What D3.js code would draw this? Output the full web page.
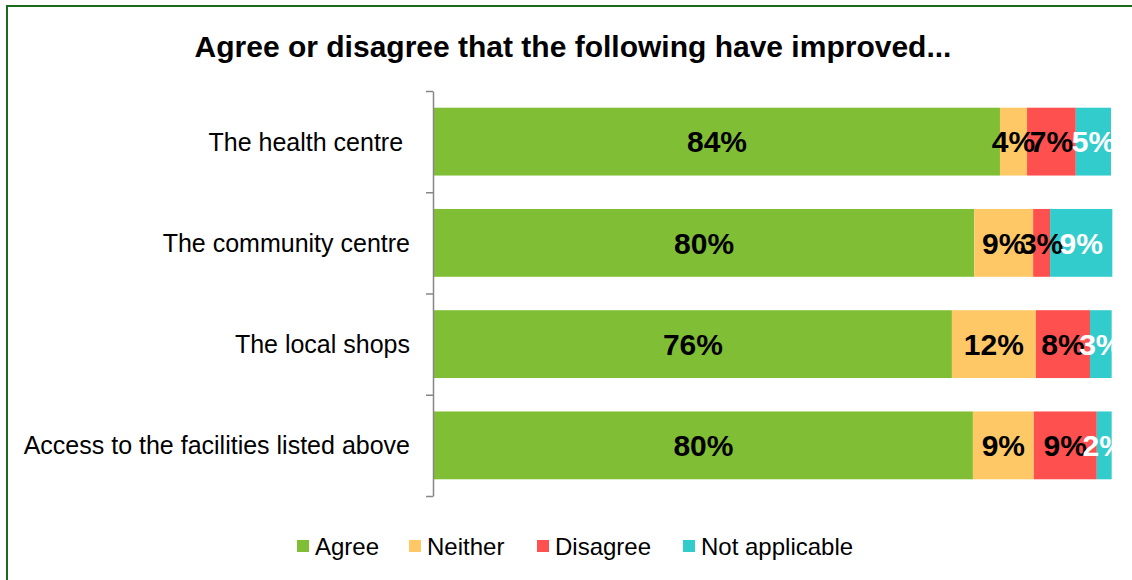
<!DOCTYPE html>
<html>
<head>
<meta charset="utf-8">
<script src="https://cdn.jsdelivr.net/npm/d3@7"></script>
<style>
  body { margin: 0; background: #fff; }
  text { font-family: "Liberation Sans", Arial, sans-serif; }
</style>
</head>
<body>
<div id="canvas"></div>
<script>
// data
const categories = ["The health centre", "The community centre", "The local shops", "Access to the facilities listed above"];
const seriesNames = ["Agree", "Neither", "Disagree", "Not applicable"];
const agree = [83.6, 79.8, 76.5, 79.6];
const neither = [4.0, 8.7, 12.4, 9.0];
const disagree = [7.2, 2.5, 8.0, 9.3];
const notApplicable = [5.2, 9.2, 3.2, 2.2];
const labelsAgree = ["84%", "80%", "76%", "80%"];
const labelsNeither = ["4%", "9%", "12%", "9%"];
const labelsDisagree = ["7%", "3%", "8%", "9%"];
const labelsNA = ["5%", "9%", "3%", "2%"];
const colors = ["#80bf35", "#fdc865", "#ff5050", "#33cccc"];
const labelColors = ["#000", "#000", "#000", "#fff"];

const width = 1132;
const height = 580;

const svg = d3.select("#canvas").append("svg")
  .attr("width", width)
  .attr("height", height);

// frame
svg.append("rect")
  .attr("x", 7).attr("y", 6)
  .attr("width", width + 20).attr("height", height + 20)
  .attr("fill", "none")
  .attr("stroke", "#1a6b1a")
  .attr("stroke-width", 2);

svg.append("text")
  .attr("x", 573).attr("y", 57)
  .attr("text-anchor", "middle")
  .style("font-size", "30px")
  .style("font-weight", "bold")
  .text("Agree or disagree that the following have improved...");

const values = [agree, neither, disagree, notApplicable];
const labels = [labelsAgree, labelsNeither, labelsDisagree, labelsNA];

const rows = categories.map((c, i) => {
  const r = { name: c };
  seriesNames.forEach((s, j) => { r[s] = values[j][i]; });
  return r;
});

const stack = d3.stack().keys(seriesNames)(rows);

const x = d3.scaleLinear().domain([0, 100]).range([434, 1111]);
const y = d3.scaleBand()
  .domain(categories)
  .range([91, 496])
  .paddingInner(0.33)
  .paddingOuter(0.165);

// labels get cut at the end of the plot area, like in the original
svg.append("clipPath").attr("id", "plotclip")
  .append("rect")
  .attr("x", x(0)).attr("y", 80)
  .attr("width", x(100) - x(0) + 1).attr("height", 430);

const layers = svg.selectAll("g.layer").data(stack).enter().append("g")
  .attr("class", "layer")
  .attr("fill", (d, i) => colors[i]);

layers.selectAll("rect").data(d => d).enter().append("rect")
  .attr("x", d => x(d[0]))
  .attr("y", d => y(d.data.name))
  .attr("width", d => x(d[1]) - x(d[0]))
  .attr("height", y.bandwidth());

// segment labels
const labelLayer = svg.append("g").attr("clip-path", "url(#plotclip)");
stack.forEach((layer, j) => {
  labelLayer.append("g").selectAll("text").data(layer).enter().append("text")
    .attr("x", d => (x(d[0]) + x(d[1])) / 2)
    .attr("y", d => y(d.data.name) + y.bandwidth() / 2)
    .attr("dy", "0.36em")
    .attr("text-anchor", "middle")
    .attr("fill", labelColors[j])
    .style("font-size", "30px")
    .style("font-weight", "bold")
    .text((d, i) => labels[j][i]);
});

// category axis with ticks between bands
const tickScale = d3.scaleLinear().domain([0, categories.length]).range([91, 496]);
const axis = svg.append("g")
  .attr("transform", "translate(433,0)")
  .call(d3.axisLeft(tickScale).ticks(categories.length).tickSize(7).tickSizeOuter(0).tickFormat(""));
axis.selectAll("path, line").attr("stroke", "#868686").attr("stroke-width", 1.5);

svg.append("g").selectAll("text").data(categories).enter().append("text")
  .attr("x", 410)
  .attr("y", d => y(d) + y.bandwidth() / 2)
  .attr("dy", "0.36em")
  .attr("text-anchor", "end")
  .style("font-size", "25px")
  .text(d => d === "The health centre" ? d + "\u00a0" : d);

// legend
const legendX = [297, 409, 537, 683];
const legend = svg.append("g").selectAll("g").data(seriesNames).enter().append("g")
  .attr("transform", (d, i) => `translate(${legendX[i]},546)`);
legend.append("rect")
  .attr("x", 0).attr("y", -6)
  .attr("width", 12).attr("height", 12)
  .attr("fill", (d, i) => colors[i]);
legend.append("text")
  .attr("x", 18)
  .attr("dy", "0.36em")
  .style("font-size", "24px")
  .text(d => d);
</script>
</body>
</html>
